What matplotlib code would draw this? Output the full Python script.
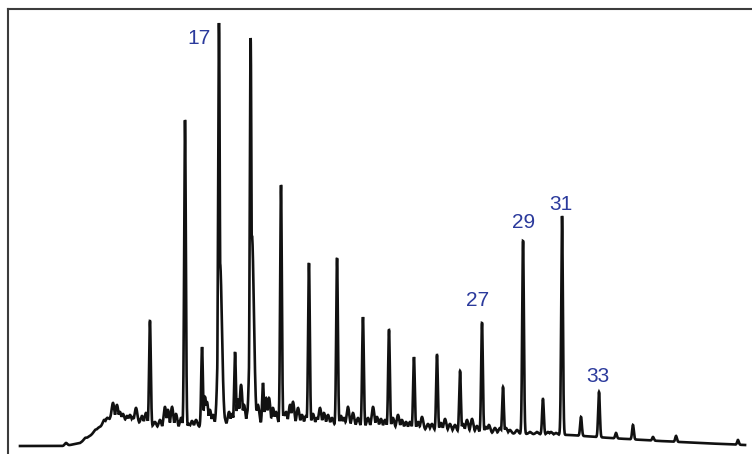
import matplotlib
matplotlib.use("Agg")
import matplotlib.pyplot as plt
import numpy as np

TRACE = "#111111"
LABEL_BLUE = "#2B3A9C"
FRAME = "#3c3c3c"

# baseline drift: retention time (min) vs detector response
base_rt = [0.0, 3.75, 5.0, 5.83, 6.67, 7.5, 8.33, 9.58, 10.83, 12.08, 13.75, 15.83,
           19.17, 22.5, 25.83, 29.17, 32.5, 35.83, 39.17, 42.5, 45.83, 49.17,
           53.33, 56.67, 60.42]
base_ab = [0, 0, 3, 10, 19, 27, 25, 24, 20, 17, 18, 20,
           22, 22, 21, 19, 17, 15, 13, 12, 11, 8,
           5, 3, 1]

# resolved peaks: apex retention time and apex response
peak_rt = [10.83, 13.75, 15.17, 16.58, 17.92, 19.22, 20.25, 21.75, 24.08, 26.42,
           28.58, 30.75, 32.83, 34.75, 36.67, 38.5, 40.25, 41.92, 43.58, 45.17,
           46.75, 48.25, 49.67, 51.08, 52.75, 54.67, 59.83]
peak_ab = [125, 326, 99, 423, 94, 408, 63, 261, 183, 188,
           129, 116, 89, 91, 75, 123, 59, 205, 47, 230,
           29, 54, 13, 21, 9, 10, 6]

# broad co-eluting shoulders under the two tallest peaks
shoulder_rt = [16.67, 19.33]
shoulder_ab = [183, 210]

# small unresolved peaks riding on the hump
minor_rt = [3.83, 5.42, 5.67, 6.25, 6.5, 7.0, 7.25, 7.75, 8.08, 8.33, 8.58, 8.92,
            9.17, 9.42, 9.67, 10.17, 10.5, 11.25, 11.67, 12.08, 12.33, 12.67,
            13.0, 13.42, 14.08, 14.33, 14.67, 15.42, 15.58, 15.83, 16.08, 17.0,
            17.42, 17.67, 18.17, 18.42, 18.67, 19.0, 19.67, 19.83, 20.5, 20.75,
            21.08, 21.33, 22.0, 22.17, 22.5, 22.75, 23.17, 23.5, 23.83, 24.42,
            24.75, 25.0, 25.33, 25.67, 26.0, 26.75, 27.0, 27.33, 27.75, 28.17,
            29.0, 29.42, 29.75, 30.08, 30.42, 31.08, 31.5, 31.83, 32.17, 32.5,
            33.17, 33.5, 34.0, 34.33, 35.08, 35.42, 35.83, 36.25, 36.92, 37.25,
            37.67, 38.08, 38.83, 39.08, 39.58, 40.0, 40.5, 40.83, 41.42, 42.5,
            43.08, 44.0, 44.25, 44.67]
minor_ab = [3, 8, 9, 16, 18, 26, 28, 43, 41, 34, 32, 30,
            31, 29, 38, 30, 33, 24, 26, 39, 36, 39,
            32, 28, 22, 25, 26, 49, 44, 36, 31, 30,
            34, 32, 46, 61, 41, 36, 38, 41, 48, 48,
            38, 34, 32, 34, 41, 44, 38, 31, 30, 32,
            28, 38, 33, 31, 28, 30, 28, 39, 33, 28,
            28, 39, 29, 27, 26, 28, 31, 26, 24, 24,
            24, 29, 22, 22, 23, 27, 22, 21, 22, 26,
            27, 20, 19, 21, 18, 18, 18, 16, 16, 14,
            14, 14, 14, 13]

# carbon-number labels: peak retention time and text offset (pixels)
label_n = [17, 27, 29, 31, 33]
label_rt = [16.58, 38.5, 41.92, 45.17, 48.25]
label_dx = [-20, -4, 1, -1, -1]
label_dy = [-15, 22, 18, 12, 15]

rt = np.linspace(0, 60.42, 15000)
base = np.interp(rt, base_rt, base_ab)


def bumps(centers, apexes, sigma):
    out = np.zeros((len(centers), rt.size))
    for i, (c, a) in enumerate(zip(centers, apexes)):
        h = a - np.interp(c, base_rt, base_ab)
        out[i] = h * np.exp(-0.5 * ((rt - c) / sigma) ** 2)
    return out


env = np.vstack([bumps(peak_rt, peak_ab, 0.07),
                 bumps(shoulder_rt, shoulder_ab, 0.16),
                 bumps(minor_rt, minor_ab, 0.11)]).max(axis=0)
signal = base + env

fig = plt.figure(figsize=(7.52, 4.54), dpi=100)
ax = fig.add_axes([8 / 752, 0, 744 / 752, 445 / 454])
ax.plot(rt, signal, color=TRACE, linewidth=1.9, solid_joinstyle="miter")
ax.set_xlim(-1.0, 61.0)
ax.set_ylim(-8, 437)

for n, t, dx, dy in zip(label_n, label_rt, label_dx, label_dy):
    apex = peak_ab[peak_rt.index(t)]
    ax.annotate(str(n), (t, apex), xytext=(dx, dy), textcoords="offset pixels",
                ha="center", va="center", fontsize=15, color=LABEL_BLUE,
                family="Liberation Sans")

ax.set_xticks([]); ax.set_yticks([])
for side in ("right", "bottom"):
    ax.spines[side].set_visible(False)
for side in ("left", "top"):
    ax.spines[side].set_color(FRAME)
    ax.spines[side].set_linewidth(1.5)

fig.savefig("out.png", dpi=100)
